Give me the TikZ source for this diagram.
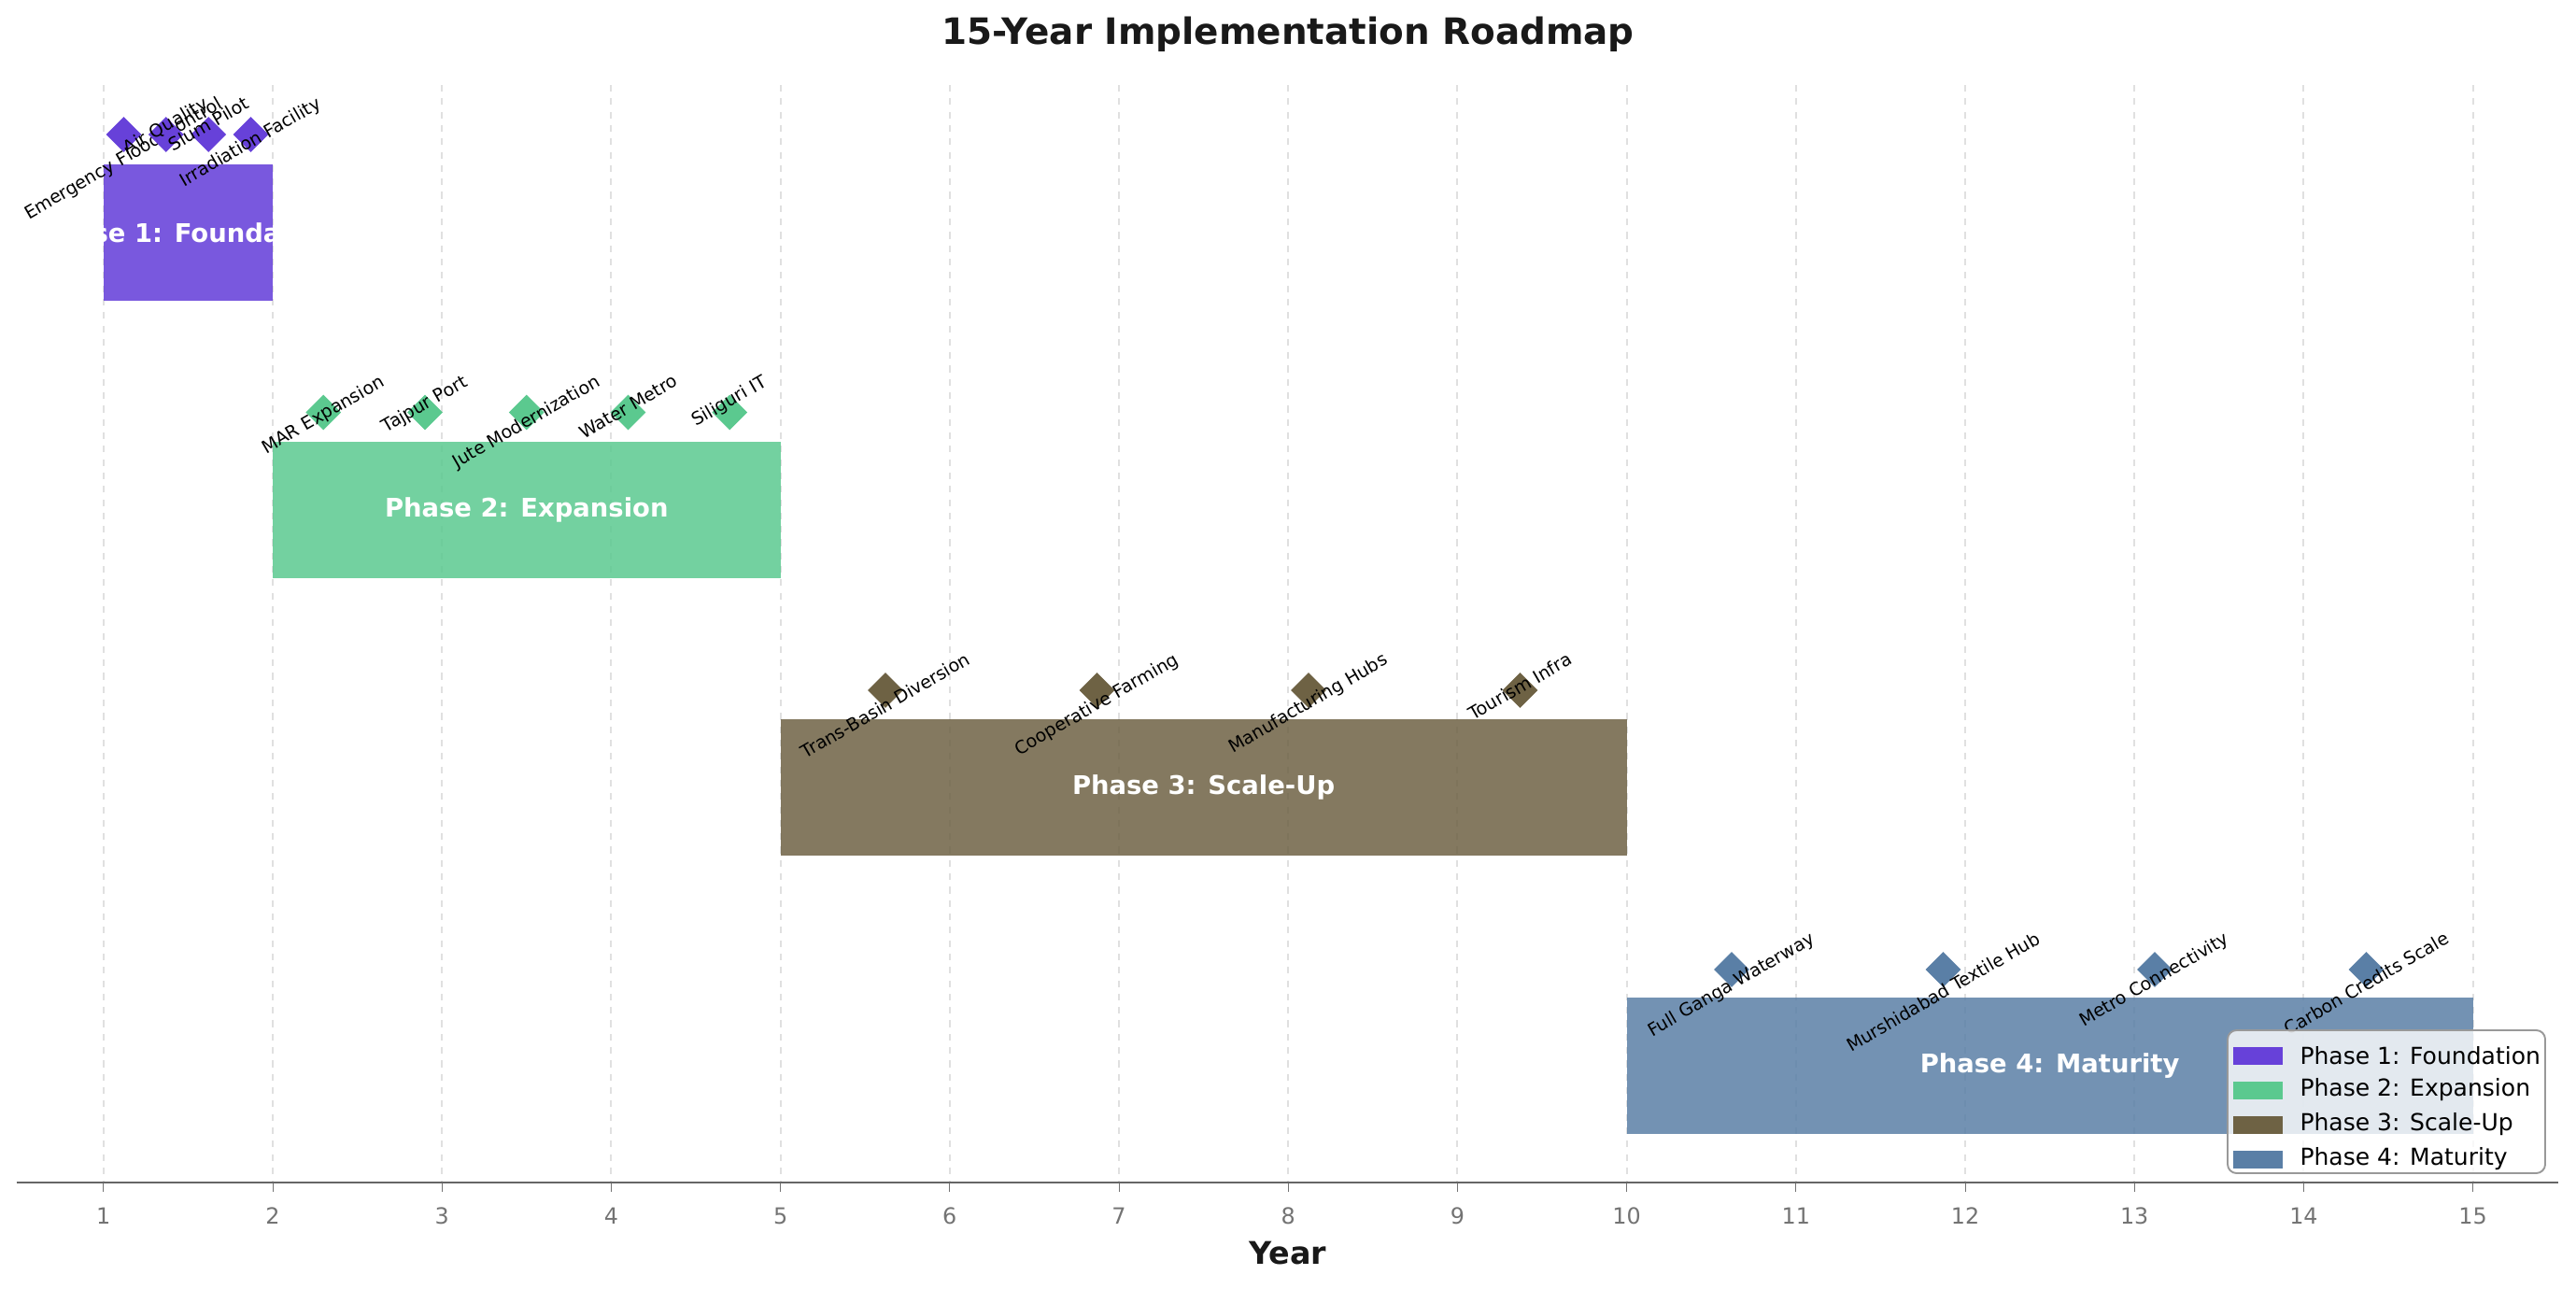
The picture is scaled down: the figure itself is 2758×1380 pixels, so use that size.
\documentclass[tikz,border=0pt]{standalone}
\usepackage{fontspec}
\setmainfont{DejaVu Sans}
\usetikzlibrary{shapes.geometric}
\begin{document}
\begin{tikzpicture}[x=0.014733cm,y=-0.014733cm,
  ms/.style={font=\fontsize{8}{9}\selectfont,inner sep=0pt,anchor=north},
  dia/.style={draw=none,minimum size=16,inner sep=0pt,diamond},
  ptxt/.style={text=white,font=\fontsize{11.5}{13}\selectfont\bfseries},
  grid/.style={draw=black!12,dashed,line width=0.8}]
\definecolor{c1}{HTML}{6741D9}\definecolor{c2}{HTML}{5BC98F}
\definecolor{c3}{HTML}{6E6244}\definecolor{c4}{HTML}{5A7FA6}
\useasboundingbox (0,0) rectangle (2758,1380);
\foreach \i in {1,...,15}{
  \draw[grid] ({110.8+181.2*(\i-1)},91) -- ({110.8+181.2*(\i-1)},1266);
  \draw[black!55] ({110.8+181.2*(\i-1)},1266) -- ({110.8+181.2*(\i-1)},1276);
  \node[text=black!55,font=\fontsize{10}{12}\selectfont] at ({110.8+181.2*(\i-1)},1302) {\i};}
\node[font=\fontsize{16.3}{18}\selectfont\bfseries,text=black!90] (title) at (1379,37) {15-Year Implementation Roadmap};
\node[font=\fontsize{14}{16}\selectfont\bfseries,text=black!90] (xl) at (1379,1342) {Year};
\draw[black!60,line width=0.8] (17.6,1266) -- (2739,1266);
% bars
\fill[c1,opacity=0.88] (110.8,176) rectangle (292,322);
\fill[c2,opacity=0.85] (292,473) rectangle (835.6,619);
\fill[c3,opacity=0.85] (835.6,770) rectangle (1741.6,916);
\fill[c4,opacity=0.85] (1741.6,1068) rectangle (2647.6,1214);
\begin{scope}\clip (110.8,176) rectangle (292,322);
\node[ptxt] (p1) at (201.4,249) {Phase 1: Foundation};\end{scope}
\node[ptxt] (p2) at (563.8,546) {Phase 2: Expansion};
\node[ptxt] (p3) at (1288.6,843) {Phase 3: Scale-Up};
\node[ptxt] (p4) at (2194.6,1141) {Phase 4: Maturity};
% milestones
\foreach \t/\lab [count=\k] in {1.12/Emergency Flood Control,1.37/Air Quality,1.62/Slum Pilot,1.87/Irradiation Facility}{
  \node[dia,fill=c1] (a\k) at ({110.8+181.2*(\t-1)},144) {};
  \node[ms] (al\k) at ({110.8+181.2*(\t-1)},102) {\rotatebox{30}{\lab}};}
\foreach \t/\lab [count=\k] in {2.3/MAR Expansion,2.9/Tajpur Port,3.5/Jute Modernization,4.1/Water Metro,4.7/Siliguri IT}{
  \node[dia,fill=c2] (b\k) at ({110.8+181.2*(\t-1)},441.5) {};
  \node[ms] (bl\k) at ({110.8+181.2*(\t-1)},399.5) {\rotatebox{30}{\lab}};}
\foreach \t/\lab [count=\k] in {5.62/Trans-Basin Diversion,6.87/Cooperative Farming,8.12/Manufacturing Hubs,9.37/Tourism Infra}{
  \node[dia,fill=c3] (c\k) at ({110.8+181.2*(\t-1)},739) {};
  \node[ms] (cl\k) at ({110.8+181.2*(\t-1)},697) {\rotatebox{30}{\lab}};}
\foreach \t/\lab [count=\k] in {10.62/Full Ganga Waterway,11.87/Murshidabad Textile Hub,13.12/Metro Connectivity,14.37/Carbon Credits Scale}{
  \node[dia,fill=c4] (d\k) at ({110.8+181.2*(\t-1)},1038) {};
  \node[ms] (dl\k) at ({110.8+181.2*(\t-1)},996) {\rotatebox{30}{\lab}};}
% legend
\draw[black!40,fill=white,fill opacity=0.8,rounded corners=4,line width=0.8] (2385,1103) rectangle (2725,1256);
\foreach \c/\lab [count=\k] in {c1/Phase 1: Foundation,c2/Phase 2: Expansion,c3/Phase 3: Scale-Up,c4/Phase 4: Maturity}{
  \fill[\c] (2391,{1103+37*\k-19}) rectangle (2444,{1103+37*\k-0});
  \node[anchor=west,font=\fontsize{10.5}{12}\selectfont,inner sep=0pt] (lg\k) at (2462,{1103+37*\k-10}) {\lab};}
\end{tikzpicture}
\end{document}
